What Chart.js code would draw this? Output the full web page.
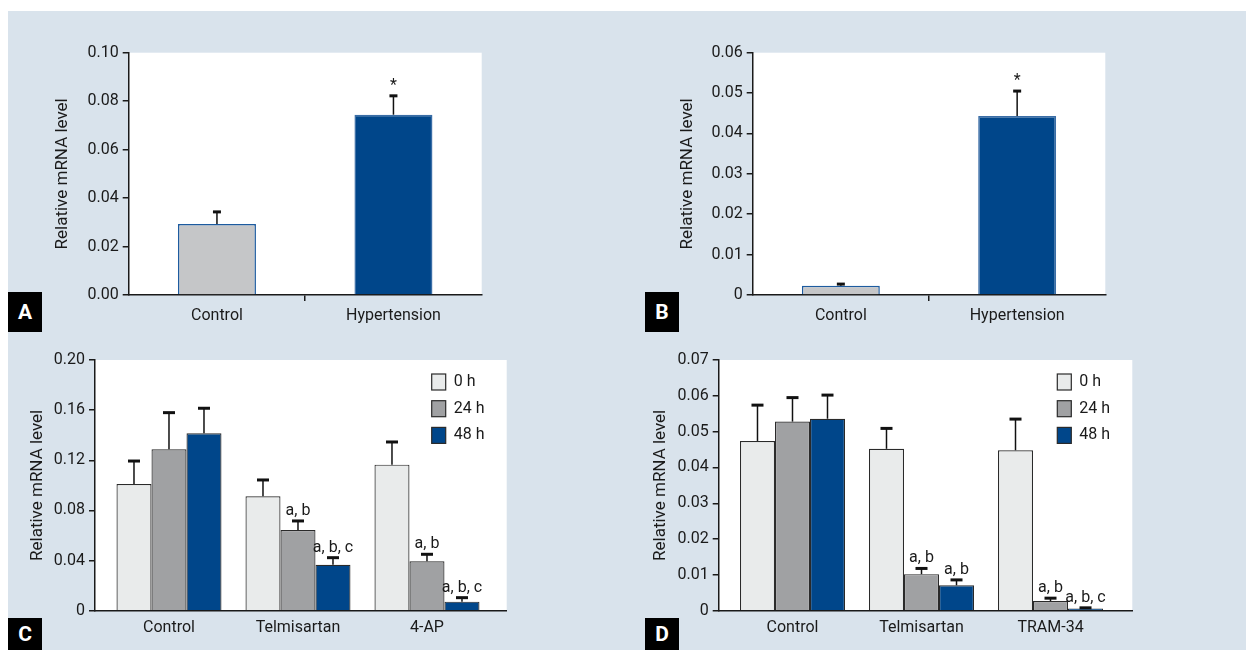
<!DOCTYPE html>
<html>
<head>
<meta charset="utf-8">
<script src="https://cdn.jsdelivr.net/npm/chart.js@4.4.1/dist/chart.umd.min.js"></script>
<style>
  body { margin: 0; background: #fff; width: 1246px; height: 650px; position: relative; overflow: hidden; }
  #bg { position: absolute; left: 8px; top: 11px; width: 1238px; height: 639px; background: #d9e3ec; }
  canvas { position: absolute; }
  .tag { position: absolute; width: 34px; height: 40px; background: #000; color: #fff;
         font: bold 21px Roboto, sans-serif; display: flex; align-items: center; justify-content: center; }
</style>
</head>
<body>
<div id="bg"></div>
<canvas id="chartA" width="623" height="340" style="left:0;top:0"></canvas>
<canvas id="chartB" width="623" height="340" style="left:623px;top:0"></canvas>
<canvas id="chartC" width="623" height="310" style="left:0;top:340px"></canvas>
<canvas id="chartD" width="623" height="310" style="left:623px;top:340px"></canvas>
<div class="tag" style="left:8px;top:292px">A</div>
<div class="tag" style="left:645px;top:292px">B</div>
<div class="tag" style="left:8px;top:618px;height:32px;align-items:flex-start;padding-top:4px;box-sizing:border-box">C</div>
<div class="tag" style="left:645px;top:618px;height:32px;align-items:flex-start;padding-top:4px;box-sizing:border-box">D</div>

<script>
// ─── Data ─────────────────────────────────────────────────────────
const abGroups = ['Control', 'Hypertension'];
const aMean = [0.0293, 0.0744];
const aUpper = [0.0343, 0.0822];
const aNotes = ['', '*'];
const bMean = [0.0023, 0.0443];
const bUpper = [0.0027, 0.0505];
const bNotes = ['', '*'];

const timeLabels = ['0 h', '24 h', '48 h'];

const cGroups = ['Control', 'Telmisartan', '4-AP'];
const c0h = [0.1011, 0.0913, 0.1165];
const c0hUpper = [0.1194, 0.1043, 0.1346];
const c24h = [0.1288, 0.0644, 0.0394];
const c24hUpper = [0.1580, 0.0716, 0.0450];
const c48h = [0.1415, 0.0367, 0.0072];
const c48hUpper = [0.1615, 0.0423, 0.0104];
const c24hNotes = ['', 'a, b', 'a, b'];
const c48hNotes = ['', 'a, b, c', 'a, b, c'];

const dGroups = ['Control', 'Telmisartan', 'TRAM-34'];
const d0h = [0.0474, 0.0452, 0.0448];
const d0hUpper = [0.0574, 0.0509, 0.0535];
const d24h = [0.0528, 0.0102, 0.0027];
const d24hUpper = [0.0595, 0.0118, 0.0035];
const d48h = [0.0536, 0.0071, 0.0006];
const d48hUpper = [0.0602, 0.0086, 0.0008];
const d24hNotes = ['', 'a, b', 'a, b'];
const d48hNotes = ['', 'a, b', 'a, b, c'];

// ─── Style ────────────────────────────────────────────────────────
const ink = '#1a1a1a';
const navy = '#00468a';
const light = '#e9ebeb';
const mid = '#a0a1a3';
const ctrlGray = '#c5c6c8';
const font = "Roboto, 'Open Sans', sans-serif";

Chart.defaults.font.family = font;
Chart.defaults.color = ink;
Chart.defaults.animation = false;

// ─── Plugins ──────────────────────────────────────────────────────
const plotBg = {
  id: 'plotBg',
  beforeDraw(chart) {
    const { ctx, chartArea: a } = chart;
    ctx.save();
    ctx.fillStyle = '#fff';
    ctx.fillRect(a.left, a.top, a.right - a.left, a.bottom - a.top);
    ctx.restore();
  },
};

const errorBars = {
  id: 'errorBars',
  afterDatasetsDraw(chart, args, opts) {
    const { ctx } = chart;
    const y = chart.scales.y;
    chart.data.datasets.forEach((ds, i) => {
      chart.getDatasetMeta(i).data.forEach((bar, j) => {
        const top = y.getPixelForValue(ds.upper[j]);
        ctx.save();
        ctx.strokeStyle = '#111';
        ctx.lineWidth = 1.5;
        ctx.beginPath();
        ctx.moveTo(bar.x, bar.y);
        ctx.lineTo(bar.x, top);
        ctx.stroke();
        ctx.lineWidth = 3;
        ctx.beginPath();
        ctx.moveTo(bar.x - opts.cap / 2, top);
        ctx.lineTo(bar.x + opts.cap / 2, top);
        ctx.stroke();
        const note = ds.notes && ds.notes[j];
        if (note) {
          ctx.fillStyle = ink;
          ctx.font = '16px ' + font;
          ctx.textAlign = 'center';
          ctx.textBaseline = 'bottom';
          ctx.fillText(note, bar.x, top - 2);
        }
        ctx.restore();
      });
    });
  },
};

const boxLegend = {
  id: 'boxLegend',
  afterDraw(chart, args, opts) {
    if (!opts.show) return;
    const { ctx, chartArea: a } = chart;
    chart.data.datasets.forEach((ds, i) => {
      const x = a.right - 75;
      const yc = a.top + 22 + i * 26.7;
      ctx.save();
      ctx.fillStyle = ds.backgroundColor;
      ctx.fillRect(x, yc - 8, 14, 16);
      ctx.strokeStyle = '#2a2a2a';
      ctx.lineWidth = 1.2;
      ctx.strokeRect(x, yc - 8, 14, 16);
      ctx.fillStyle = ink;
      ctx.font = '16px ' + font;
      ctx.textAlign = 'left';
      ctx.textBaseline = 'middle';
      ctx.fillText(ds.label, x + 22, yc);
      ctx.restore();
    });
  },
};

// ─── Shared scale builders ────────────────────────────────────────
function yAxis(max, step, fmt, width, titlePad) {
  return {
    min: 0,
    max,
    ticks: { stepSize: step, callback: fmt, color: ink, font: { size: 16 }, padding: 4 },
    grid: { drawOnChartArea: false, color: ink, lineWidth: 1.5, tickLength: 6 },
    border: { color: ink, width: 1.5 },
    title: {
      display: true, text: 'Relative mRNA level', color: ink,
      font: { size: 17 }, padding: { top: titlePad, bottom: 0 },
    },
    afterFit: (s) => { s.width = width; },
  };
}

function catAxis() {
  return {
    offset: true,
    grid: {
      offset: true, drawOnChartArea: false, tickLength: 6, lineWidth: 1.5,
      color: (c) => (c.index === 1 ? ink : 'transparent'),
    },
    border: { color: ink, width: 1.5 },
    ticks: { color: ink, font: { size: 16 }, padding: 5 },
    afterFit: (s) => { s.height = 45; },
  };
}

function groupAxis(groups, min, max) {
  return {
    type: 'linear',
    min,
    max,
    offset: false,
    grid: { display: false, drawTicks: false },
    border: { color: ink, width: 1.5 },
    afterBuildTicks: (s) => { s.ticks = groups.map((g, i) => ({ value: i })); },
    ticks: { autoSkip: false, maxRotation: 0, color: ink, font: { size: 16 }, padding: 8,
             callback: (v) => groups[v] },
    afterFit: (s) => { s.height = 39.3; },
  };
}

const zeroPlain = (v) => (v === 0 ? '0' : v.toFixed(2));

// ─── Panels A and B: two-bar comparisons ──────────────────────────
function twoBar(id, mean, upper, notes, yOpts, pad) {
  return new Chart(document.getElementById(id), {
    type: 'bar',
    data: {
      labels: abGroups,
      datasets: [{
        data: mean,
        upper,
        notes,
        backgroundColor: [ctrlGray, navy],
        borderColor: ['#1d5b9f', '#3a6da6'],
        borderWidth: 1.5,
        categoryPercentage: 0.442,
        barPercentage: 1,
      }],
    },
    options: {
      responsive: false,
      layout: { padding: pad },
      plugins: { legend: { display: false }, tooltip: { enabled: false }, errorBars: { cap: 8 } },
      scales: { x: catAxis(), y: yOpts },
    },
    plugins: [plotBg, errorBars],
  });
}

twoBar('chartA', aMean, aUpper, aNotes,
  yAxis(0.1, 0.02, (v) => v.toFixed(2), 128.7, 52.8),
  { top: 52.7, bottom: 0, left: 0, right: 141.3 });

twoBar('chartB', bMean, bUpper, bNotes,
  yAxis(0.06, 0.01, zeroPlain, 129.7, 54.8),
  { top: 52.7, bottom: 0, left: 0, right: 140.7 });

// ─── Panels C and D: time course per treatment ────────────────────
function timeCourse(id, groups, series, uppers, notes, yOpts, xMin, xMax, pad) {
  const fills = [light, mid, navy];
  return new Chart(document.getElementById(id), {
    type: 'bar',
    data: {
      datasets: series.map((vals, k) => ({
        label: timeLabels[k],
        data: vals.map((v, i) => ({ x: i, y: v })),
        upper: uppers[k],
        notes: notes[k],
        backgroundColor: fills[k],
        borderColor: '#2a2a2a',
        borderWidth: 1.2,
        categoryPercentage: 0.814,
        barPercentage: 1,
      })),
    },
    options: {
      responsive: false,
      layout: { padding: pad },
      plugins: {
        legend: { display: false }, tooltip: { enabled: false },
        errorBars: { cap: 12 }, boxLegend: { show: true },
      },
      scales: { x: groupAxis(groups, xMin, xMax), y: yOpts },
    },
    plugins: [plotBg, errorBars, boxLegend],
  });
}

timeCourse('chartC', cGroups, [c0h, c24h, c48h], [c0hUpper, c24hUpper, c48hUpper],
  [null, c24hNotes, c48hNotes],
  yAxis(0.2, 0.04, zeroPlain, 95, 27.5),
  -0.5736, 2.618,
  { top: 20, bottom: 0, left: 0, right: 116.3 });

timeCourse('chartD', dGroups, [d0h, d24h, d48h], [d0hUpper, d24hUpper, d48hUpper],
  [null, d24hNotes, d48hNotes],
  yAxis(0.07, 0.01, zeroPlain, 95.7, 27.8),
  -0.572, 2.634,
  { top: 20, bottom: 0, left: 0, right: 113.7 });
</script>
</body>
</html>
